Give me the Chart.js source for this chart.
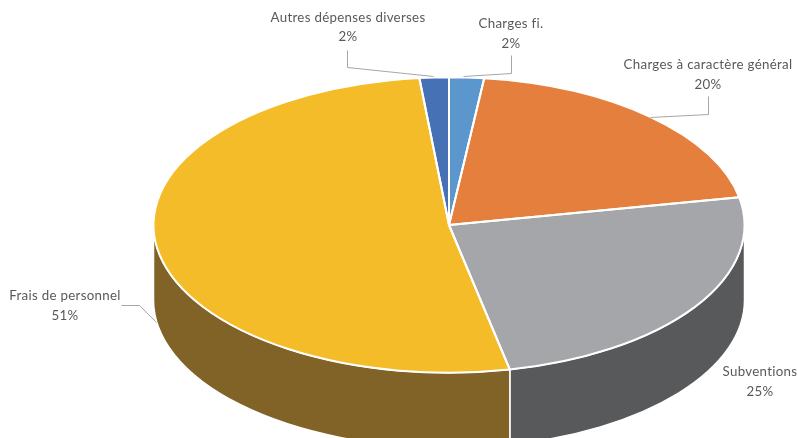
<!DOCTYPE html>
<html lang="fr">
<head>
<meta charset="utf-8">
<title>Répartition des dépenses</title>
<script src="https://cdn.jsdelivr.net/npm/chart.js@4"></script>
<style>
  html, body { margin: 0; padding: 0; background: #fff; overflow: hidden; }
  canvas { display: block; }
</style>
</head>
<body>
<canvas id="pie" width="798" height="438"></canvas>
<script>
// données
const categories = ["Charges fi.", "Charges à caractère général", "Subventions", "Frais de personnel", "Autres dépenses diverses"];
// parts (la perspective d'origine décale un peu les angles)
const shares = [1.9, 20.1, 24.7, 51.7, 1.6];
// pourcentages imprimés sur le graphique
const percentLabels = ["2%", "20%", "25%", "51%", "2%"];

// couleurs du dessus / du flanc
const topColors = ["#5B97CC", "#E57F3E", "#A5A6A9", "#F5BC29", "#4671B5"];
const wallColors = ["#3A5F82", "#93522A", "#58595B", "#826327", "#2C4874"];

// mise en page 3D
const yScale = 0.5;
const depth = 75;
const radius = 295.5;

// étiquettes : centre x, y de la 1re ligne, y de la 2e ligne
const labelPos = [[511, 24, 44], [708, 65, 85], [760, 372, 392], [65, 296, 316], [348, 18, 37]];
// traits de rappel (Subventions n'en a pas)
const leaders = [
  [[511, 55], [511, 73], [463, 76]],
  [[708, 96], [708, 114], [650, 117]],
  [],
  [[121, 305], [139, 305], [156, 322]],
  [[347, 50], [347, 67], [433, 76]],
];

const tiltPlugin = {
  id: "tilt",
  beforeDatasetDraw(chart, args) {
    const { ctx } = chart;
    const arcs = args.meta.data;

    // flanc : seulement la moitié avant du disque
    arcs.forEach((arc, i) => {
      const a0 = Math.max(arc.startAngle, 0);
      const a1 = Math.min(arc.endAngle, Math.PI);
      if (a1 <= a0) return;
      ctx.save();
      ctx.translate(arc.x, arc.y);
      ctx.scale(1, yScale);
      ctx.beginPath();
      ctx.arc(0, 0, arc.outerRadius, a0, a1);
      ctx.arc(0, depth / yScale, arc.outerRadius, a1, a0, true);
      ctx.closePath();
      ctx.restore();
      ctx.fillStyle = wallColors[i];
      ctx.fill();
      ctx.strokeStyle = "#fff";
      ctx.lineWidth = 1.5;
      ctx.stroke();
    });

    // dessus aplati
    const { x, y } = arcs[0];
    ctx.save();
    ctx.translate(x, y);
    ctx.scale(1, yScale);
    ctx.translate(-x, -y);
  },
  afterDatasetDraw(chart, args) {
    const { ctx } = chart;
    ctx.restore();

    // contour blanc non déformé
    args.meta.data.forEach((arc) => {
      ctx.save();
      ctx.translate(arc.x, arc.y);
      ctx.scale(1, yScale);
      ctx.beginPath();
      ctx.moveTo(0, 0);
      ctx.arc(0, 0, arc.outerRadius, arc.startAngle, arc.endAngle);
      ctx.closePath();
      ctx.restore();
      ctx.strokeStyle = "#fff";
      ctx.lineWidth = 2;
      ctx.lineJoin = "round";
      ctx.stroke();
    });
  },
  afterDraw(chart) {
    const { ctx } = chart;

    // traits de rappel
    ctx.strokeStyle = "#A6A6A6";
    ctx.lineWidth = 1;
    leaders.forEach((pts) => {
      if (!pts.length) return;
      ctx.beginPath();
      pts.forEach(([px, py], j) => {
        if (j === 0) ctx.moveTo(px + 0.5, py + 0.5);
        else ctx.lineTo(px + 0.5, py + 0.5);
      });
      ctx.stroke();
    });

    // étiquettes
    ctx.fillStyle = "#595959";
    ctx.font = "13.3px Lato";
    ctx.letterSpacing = "0.3px";
    ctx.textAlign = "center";
    ctx.textBaseline = "middle";
    categories.forEach((name, i) => {
      const [lx, y1, y2] = labelPos[i];
      ctx.fillText(name, lx, y1);
      ctx.fillText(percentLabels[i], lx, y2);
    });
  },
};

new Chart(document.getElementById("pie"), {
  type: "pie",
  data: {
    labels: categories,
    datasets: [{ data: shares, backgroundColor: topColors, borderWidth: 0, clip: false }],
  },
  options: {
    responsive: false,
    animation: false,
    radius: radius,
    layout: { padding: { left: 100, top: 12 } },
    plugins: { legend: { display: false }, tooltip: { enabled: false } },
  },
  plugins: [tiltPlugin],
});
</script>
</body>
</html>
